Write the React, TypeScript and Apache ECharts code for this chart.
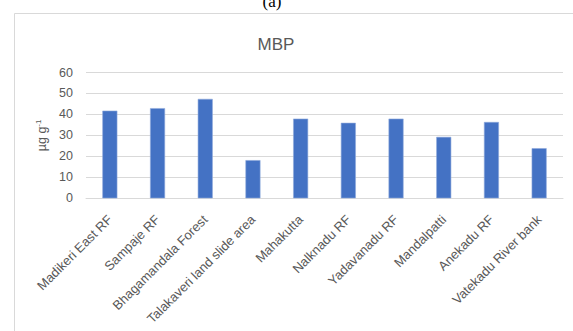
import React, { useEffect, useRef } from "react";
import * as echarts from "echarts";

const categories = [
  "Madikeri East RF",
  "Sampaje RF",
  "Bhagamandala Forest",
  "Talakaveri land slide area",
  "Mahakutta",
  "Nalknadu RF",
  "Yadavanadu RF",
  "Mandalpatti",
  "Anekadu RF",
  "Vatekadu River bank",
];
const mbpValues = [41.8, 43, 47.4, 18.2, 38, 36, 38, 29.3, 36.4, 23.9];
const yTicks = { min: 0, max: 60, interval: 10 };

export default function App() {
  const ref = useRef<HTMLDivElement>(null);
  useEffect(() => {
    if (!ref.current) return;
    const chart = echarts.init(ref.current, null, { renderer: "svg" });
    chart.setOption({
      animation: false,
      backgroundColor: "#ffffff",
      title: {
        text: "MBP",
        left: 271,
        textAlign: "center",
        top: 31,
        textStyle: {
          fontFamily: "Liberation Sans",
          fontSize: 17,
          fontWeight: "normal",
          color: "#595959",
        },
      },
      graphic: [
        {
          type: "rect",
          shape: { x: 14.5, y: 13.5, width: 600, height: 400 },
          style: { fill: "none", stroke: "#d9d9d9", lineWidth: 1 },
          silent: true,
        },
        {
          type: "text",
          x: 272,
          y: -7,
          style: {
            text: "(a)",
            fontFamily: "Liberation Serif",
            fontSize: 17,
            fill: "#000",
            textAlign: "center",
          },
        },
      ],
      grid: { left: 86, right: 10, top: 72.5, bottom: 132.7 },
      xAxis: {
        type: "category",
        data: categories,
        axisLine: { lineStyle: { color: "#d9d9d9" } },
        axisTick: { show: false },
        axisLabel: {
          rotate: 45,
          interval: 0,
          margin: 19,
          fontFamily: "Liberation Sans",
          fontSize: 13,
          color: "#595959",
        },
      },
      yAxis: {
        type: "value",
        min: yTicks.min,
        max: yTicks.max,
        interval: yTicks.interval,
        axisLine: { show: false },
        axisTick: { show: false },
        splitLine: { lineStyle: { color: "#d9d9d9", width: 1 } },
        axisLabel: {
          margin: 13,
          fontFamily: "Liberation Sans",
          fontSize: 12.5,
          color: "#595959",
        },
        name: "{a|µg g}{b|-1}",
        nameLocation: "middle",
        nameRotate: 90,
        nameGap: 35,
        nameTextStyle: {
          rich: {
            a: { fontFamily: "Liberation Sans", fontSize: 12.5, color: "#595959" },
            b: {
              fontFamily: "Liberation Sans",
              fontSize: 8,
              color: "#595959",
              padding: [0, 0, 7, 0],
            },
          },
        },
      },
      series: [
        {
          type: "bar",
          data: mbpValues,
          barWidth: 15,
          itemStyle: { color: "#4472c4", borderColor: "#8fa9dc", borderWidth: 0.6 },
        },
      ],
    });
    return () => chart.dispose();
  }, []);
  return (
    <div
      ref={ref}
      style={{ position: "absolute", left: 0, top: 0, width: 573, height: 331 }}
    />
  );
}
